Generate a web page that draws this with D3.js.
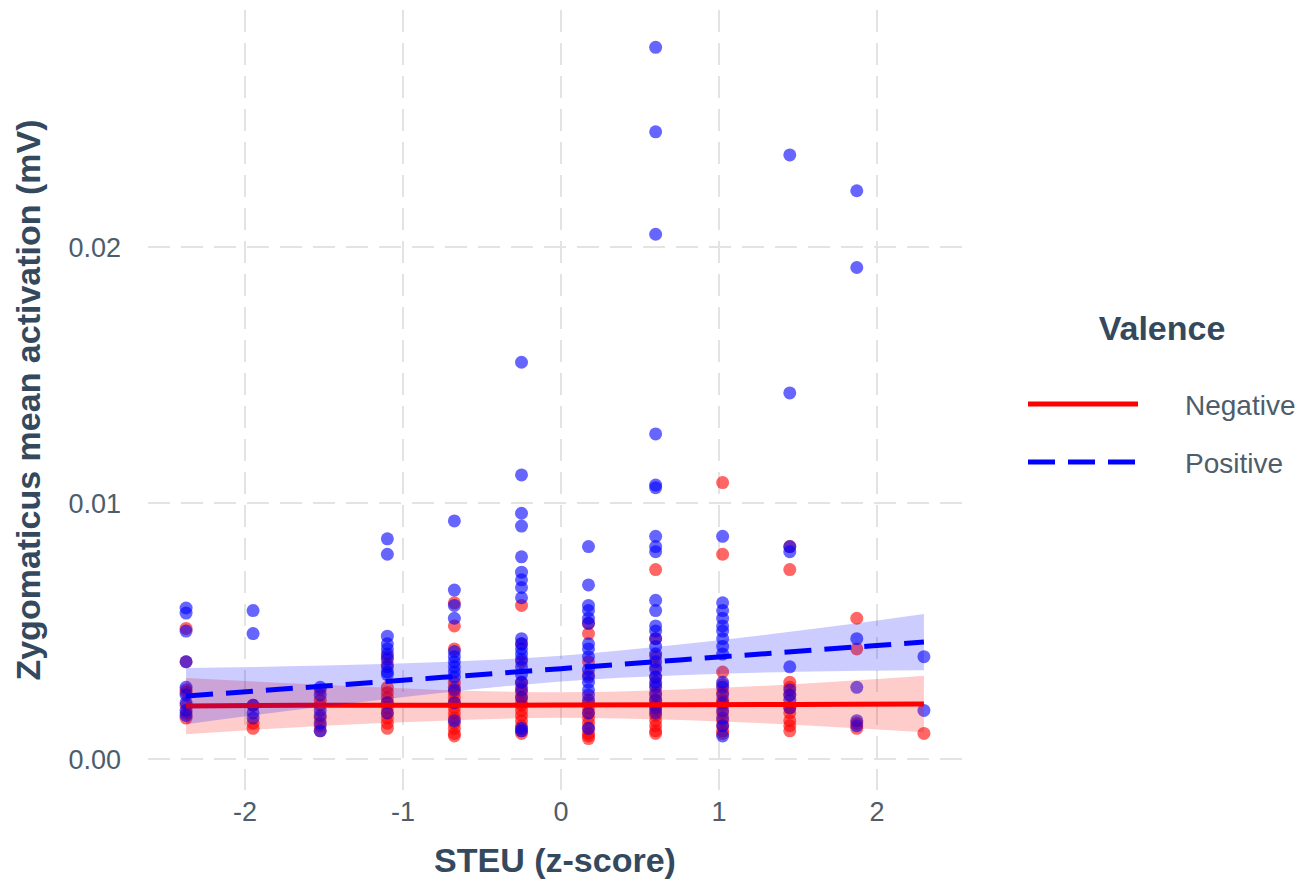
<!DOCTYPE html>
<html>
<head>
<meta charset="utf-8">
<script src="https://cdn.jsdelivr.net/npm/d3@7"></script>
<style>
  body { margin: 0; background: #fff; }
  text { font-family: "Liberation Sans", Arial, sans-serif; }
  .tick-label { fill: #4d5d6c; font-size: 27px; }
  .axis-title { fill: #34495e; font-size: 34px; font-weight: bold; }
  .legend-label { fill: #4d5d6c; font-size: 28px; }
</style>
</head>
<body>
<div id="chart"></div>
<script>
// STEU z-score levels (one column of points per level)
var steuLevels = [-2.373, -1.949, -1.524, -1.099, -0.675, -0.25, 0.174, 0.599, 1.023, 1.448, 1.872, 2.297];

// Zygomaticus activation (mV), per STEU level, negative valence
var negValues = [
  [0.0051, 0.0038, 0.0027, 0.0026, 0.0021, 0.0018, 0.0016],
  [0.0021, 0.0014, 0.0012],
  [0.0027, 0.0023, 0.0021, 0.0016, 0.0013, 0.0011],
  [0.0040, 0.0037, 0.0028, 0.0026, 0.0024, 0.0022, 0.0020, 0.0018, 0.0016, 0.0014, 0.0012],
  [0.0061, 0.0052, 0.0043, 0.0030, 0.0028, 0.0026, 0.0024, 0.0022, 0.0020, 0.0018, 0.0016, 0.0014, 0.0012, 0.0010, 0.0009],
  [0.0060, 0.0045, 0.0038, 0.0030, 0.0028, 0.0026, 0.0024, 0.0022, 0.0021, 0.0019, 0.0017, 0.0015, 0.0013, 0.0011, 0.0010],
  [0.0053, 0.0049, 0.0038, 0.0033, 0.0022, 0.0020, 0.0018, 0.0016, 0.0014, 0.0012, 0.0010, 0.0009, 0.0008],
  [0.0074, 0.0047, 0.0040, 0.0036, 0.0032, 0.0029, 0.0026, 0.0023, 0.0021, 0.0019, 0.0017, 0.0015, 0.0013, 0.0011, 0.0010],
  [0.0108, 0.0080, 0.0034, 0.0029, 0.0026, 0.0023, 0.0021, 0.0018, 0.0015, 0.0013, 0.0011, 0.0010],
  [0.0083, 0.0074, 0.0030, 0.0028, 0.0025, 0.0020, 0.0018, 0.0015, 0.0013, 0.0011],
  [0.0055, 0.0043, 0.0014, 0.0012],
  [0.0010]
];

// positive valence
var posValues = [
  [0.0059, 0.0057, 0.0050, 0.0038, 0.0028, 0.0025, 0.0022, 0.0019, 0.0017],
  [0.0058, 0.0049, 0.0021, 0.0018, 0.0016],
  [0.0028, 0.0025, 0.0019, 0.0017, 0.0014, 0.0011],
  [0.0086, 0.0080, 0.0048, 0.0045, 0.0043, 0.0041, 0.0039, 0.0036, 0.0034, 0.0033, 0.0022, 0.0018],
  [0.0093, 0.0066, 0.0060, 0.0055, 0.0042, 0.0040, 0.0038, 0.0036, 0.0034, 0.0032, 0.0027, 0.0022, 0.0015],
  [0.0155, 0.0111, 0.0096, 0.0091, 0.0079, 0.0073, 0.0070, 0.0067, 0.0063, 0.0047, 0.0045, 0.0043, 0.0041, 0.0039, 0.0036, 0.0033, 0.0030, 0.0027, 0.0024, 0.0012, 0.0011],
  [0.0083, 0.0068, 0.0060, 0.0058, 0.0055, 0.0053, 0.0045, 0.0043, 0.0040, 0.0035, 0.0032, 0.0030, 0.0027, 0.0025, 0.0023, 0.0018, 0.0012],
  [0.0278, 0.0245, 0.0205, 0.0127, 0.0107, 0.0106, 0.0087, 0.0083, 0.0081, 0.0062, 0.0058, 0.0052, 0.0050, 0.0047, 0.0044, 0.0041, 0.0038, 0.0035, 0.0032, 0.0030, 0.0028, 0.0025, 0.0023, 0.0020, 0.0018],
  [0.0087, 0.0061, 0.0058, 0.0055, 0.0052, 0.0050, 0.0047, 0.0044, 0.0041, 0.0030, 0.0028, 0.0025, 0.0022, 0.0019, 0.0016, 0.0013, 0.0009],
  [0.0236, 0.0143, 0.0083, 0.0081, 0.0036, 0.0027, 0.0025, 0.0023, 0.0020],
  [0.0222, 0.0192, 0.0047, 0.0028, 0.0015, 0.0013],
  [0.0040, 0.0019]
];

var fitX     = [-2.373, -1.5, -0.75, 0, 0.75, 1.5, 2.297];
var negFit   = [0.00207, 0.0021, 0.0021, 0.00211, 0.00212, 0.00213, 0.00215];
var negLow   = [0.00097, 0.0013, 0.0015, 0.00161, 0.00152, 0.00133, 0.00105];
var negHigh  = [0.00317, 0.0029, 0.0027, 0.00261, 0.00272, 0.00293, 0.00325];
var posFit   = [0.00246, 0.00285, 0.00319, 0.00353, 0.00387, 0.00421, 0.00457];
var posLow   = [0.00136, 0.00205, 0.00259, 0.00303, 0.00327, 0.00341, 0.00347];
var posHigh  = [0.00356, 0.00365, 0.00379, 0.00403, 0.00447, 0.00501, 0.00567];

var xTicks = [-2, -1, 0, 1, 2];
var yTicks = [0, 0.01, 0.02];
var groups = ["Negative", "Positive"];

var width = 1307, height = 880;
var margin = {top: 10, right: 345, bottom: 90, left: 148};

var svg = d3.select("#chart").append("svg")
  .attr("width", width)
  .attr("height", height);

var x = d3.scaleLinear()
  .domain([-2.614, 2.538])
  .range([margin.left, width - margin.right]);

var y = d3.scaleLinear()
  .domain([-0.00121, 0.02926])
  .range([height - margin.bottom, margin.top]);

var colour = d3.scaleOrdinal().domain(groups).range(["#ff0000", "#0000ff"]);

// grid
svg.selectAll("line.vgrid")
  .data(xTicks)
  .enter().append("line")
  .attr("class", "vgrid")
  .attr("x1", d => x(d)).attr("x2", d => x(d))
  .attr("y1", margin.top).attr("y2", height - margin.bottom)
  .attr("stroke", "#e3e3e3").attr("stroke-width", 2)
  .attr("stroke-dasharray", "22,11");

svg.selectAll("line.hgrid")
  .data(yTicks)
  .enter().append("line")
  .attr("class", "hgrid")
  .attr("x1", margin.left).attr("x2", width - margin.right)
  .attr("y1", d => y(d)).attr("y2", d => y(d))
  .attr("stroke", "#e3e3e3").attr("stroke-width", 2)
  .attr("stroke-dasharray", "22,11");

// tick labels
svg.selectAll("text.xtick")
  .data(xTicks)
  .enter().append("text")
  .attr("class", "tick-label")
  .attr("x", d => x(d))
  .attr("y", height - margin.bottom + 31)
  .attr("text-anchor", "middle")
  .text(d => d);

svg.selectAll("text.ytick")
  .data(yTicks)
  .enter().append("text")
  .attr("class", "tick-label")
  .attr("x", margin.left - 27)
  .attr("y", d => y(d) + 10)
  .attr("text-anchor", "end")
  .text(d => d3.format(".2f")(d));

// axis titles
svg.append("text")
  .attr("class", "axis-title")
  .attr("x", (margin.left + width - margin.right) / 2)
  .attr("y", height - 8)
  .attr("text-anchor", "middle")
  .text("STEU (z-score)");

svg.append("text")
  .attr("class", "axis-title")
  .attr("transform", `translate(40, ${(margin.top + height - margin.bottom) / 2}) rotate(-90)`)
  .attr("text-anchor", "middle")
  .text("Zygomaticus mean activation (mV)");

// points
var points = [];
[negValues, posValues].forEach((vals, g) => {
  vals.forEach((col, i) => {
    col.forEach(v => points.push({group: groups[g], steu: steuLevels[i], value: v}));
  });
});

svg.selectAll("circle.pt")
  .data(points)
  .enter().append("circle")
  .attr("class", "pt")
  .attr("cx", d => x(d.steu))
  .attr("cy", d => y(d.value))
  .attr("r", 6.5)
  .attr("fill", d => colour(d.group))
  .attr("fill-opacity", 0.6);

// smooths: ribbon then line per group
var fits = [
  {group: "Negative", fit: negFit, low: negLow, high: negHigh, dash: null},
  {group: "Positive", fit: posFit, low: posLow, high: posHigh, dash: "27,13"}
];

var area = d3.area()
  .x((d, i) => x(fitX[i]))
  .y0(d => y(d[0]))
  .y1(d => y(d[1]))
  .curve(d3.curveMonotoneX);

var line = d3.line()
  .x((d, i) => x(fitX[i]))
  .y(d => y(d))
  .curve(d3.curveMonotoneX);

fits.forEach(f => {
  svg.append("path")
    .datum(f.low.map((l, i) => [l, f.high[i]]))
    .attr("d", area)
    .attr("fill", colour(f.group))
    .attr("fill-opacity", 0.2);

  svg.append("path")
    .datum(f.fit)
    .attr("d", line)
    .attr("fill", "none")
    .attr("stroke", colour(f.group))
    .attr("stroke-width", 5)
    .attr("stroke-dasharray", f.dash);
});

// legend
var legend = svg.append("g").attr("transform", "translate(1028, 0)");

legend.append("text")
  .attr("class", "axis-title")
  .attr("x", 134)
  .attr("y", 340)
  .attr("text-anchor", "middle")
  .text("Valence");

var items = legend.selectAll("g.item")
  .data(fits)
  .enter().append("g")
  .attr("class", "item")
  .attr("transform", (d, i) => `translate(0, ${404 + i * 58})`);

items.append("line")
  .attr("x1", 0).attr("x2", 110)
  .attr("stroke", d => colour(d.group))
  .attr("stroke-width", 5)
  .attr("stroke-dasharray", d => d.dash);

items.append("text")
  .attr("class", "legend-label")
  .attr("x", 157)
  .attr("y", 11)
  .text(d => d.group);
</script>
</body>
</html>
